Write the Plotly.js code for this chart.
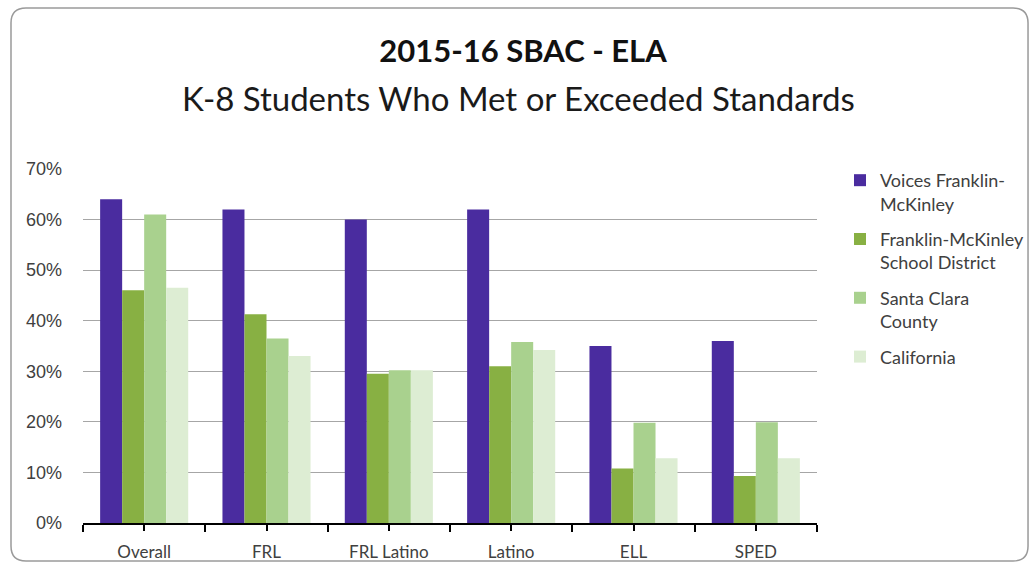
<!DOCTYPE html>
<html>
<head>
<meta charset="utf-8">
<script src="https://cdn.plot.ly/plotly-3.0.1.min.js"></script>
<style>html,body{margin:0;padding:0;background:#fff;}#chart{width:1034px;height:564px;}</style>
</head>
<body>
<div id="chart"></div>
<script>
// Data (percent of K-8 students who met or exceeded standards)
const categories = ["Overall", "FRL", "FRL Latino", "Latino", "ELL", "SPED"];
const voicesFM = [64, 62, 60, 62, 35, 36];
const fmDistrict = [46, 41.3, 29.5, 31, 10.8, 9.3];
const santaClara = [61, 36.5, 30.2, 35.8, 19.8, 19.9];
const california = [46.5, 33, 30.2, 34.2, 12.8, 12.8];
const seriesNames = ["Voices Franklin-<br>McKinley", "Franklin-McKinley<br>School District", "Santa Clara<br>County", "California"];
const seriesColors = ["#4A2C9F", "#88B043", "#A9D18E", "#DDEDD3"];
const yTickVals = [0, 10, 20, 30, 40, 50, 60, 70];
const yTickText = ["0%", "10%", "20%", "30%", "40%", "50%", "60%", "70%"];

const seriesValues = [voicesFM, fmDistrict, santaClara, california];
const traces = seriesValues.map((vals, i) => ({
  type: "bar",
  x: categories,
  y: vals,
  name: seriesNames[i],
  legendgroup: "g" + i,
  marker: {color: seriesColors[i], line: {width: 0}},
  hoverinfo: "x+y+name"
}));
// helper trace so the second (center tick) axis is drawn
traces.push({
  type: "scatter", mode: "markers", x: categories, y: categories.map(() => null),
  xaxis: "x2", yaxis: "y", showlegend: false, hoverinfo: "skip"
});

const sansFont = "Lato, 'Liberation Sans', sans-serif";

const layout = {
  width: 1034, height: 564,
  margin: {l: 83, r: 217, t: 169, b: 41},
  paper_bgcolor: "#ffffff", plot_bgcolor: "#ffffff",
  barmode: "group", bargap: 0.28, bargroupgap: 0,
  showlegend: true,
  title: {
    text: "<b>2015-16 SBAC - ELA</b>",
    font: {family: sansFont, size: 31, color: "#111111"},
    x: 0.5058, xanchor: "center", xref: "container",
    y: 0.9096, yref: "container", yanchor: "middle"
  },
  annotations: [{
    text: "K-8 Students Who Met or Exceeded Standards",
    xref: "paper", yref: "paper", x: 0.594, y: 1.2006, xanchor: "center", yanchor: "middle",
    showarrow: false,
    font: {family: sansFont, size: 33, color: "#1a1a1a"}
  }],
  xaxis: {
    type: "category",
    showgrid: false, zeroline: false,
    showline: true, linecolor: "#000000", linewidth: 2,
    ticks: "outside", tickson: "boundaries", ticklen: 7, tickwidth: 2, tickcolor: "#000000",
    ticklabelstandoff: 13,
    tickfont: {family: sansFont, size: 17, color: "#404040"},
    fixedrange: true
  },
  xaxis2: {
    type: "category", overlaying: "x", matches: "x", anchor: "y", side: "bottom",
    showgrid: false, zeroline: false, showline: false,
    ticks: "outside", ticklen: 7, tickwidth: 2, tickcolor: "#000000",
    showticklabels: false, fixedrange: true
  },
  yaxis: {
    range: [0, 70],
    tickmode: "array", tickvals: yTickVals, ticktext: yTickText,
    showgrid: true, gridcolor: "#A6A6A6", gridwidth: 1,
    zeroline: false, showline: false, ticks: "",
    ticklabelstandoff: 20,
    tickfont: {family: "'Liberation Sans', Arial, sans-serif", size: 18, color: "#404040"},
    fixedrange: true
  },
  legend: {
    xref: "container", yref: "container",
    x: 0.8124, y: 0.7128, xanchor: "left", yanchor: "top",
    font: {family: sansFont, size: 18, color: "#404040"},
    bgcolor: "rgba(0,0,0,0)", borderwidth: 0,
    itemwidth: 30, traceorder: "grouped", tracegroupgap: 9, valign: "top"
  },
  shapes: [{
    type: "path", xref: "paper", yref: "paper", layer: "below",
    path: "M -0.0777,1.4548 L 1.2671,1.4548 Q 1.2875,1.4548 1.2875,1.4124 L 1.2875,-0.0649 Q 1.2875,-0.1073 1.2671,-0.1073 L -0.0777,-0.1073 Q -0.0981,-0.1073 -0.0981,-0.0649 L -0.0981,1.4124 Q -0.0981,1.4548 -0.0777,1.4548 Z",
    line: {color: "#9A9A9A", width: 1.5}, fillcolor: "rgba(0,0,0,0)"
  }]
};

Plotly.newPlot("chart", traces, layout, {displayModeBar: false, staticPlot: true});
</script>
</body>
</html>
